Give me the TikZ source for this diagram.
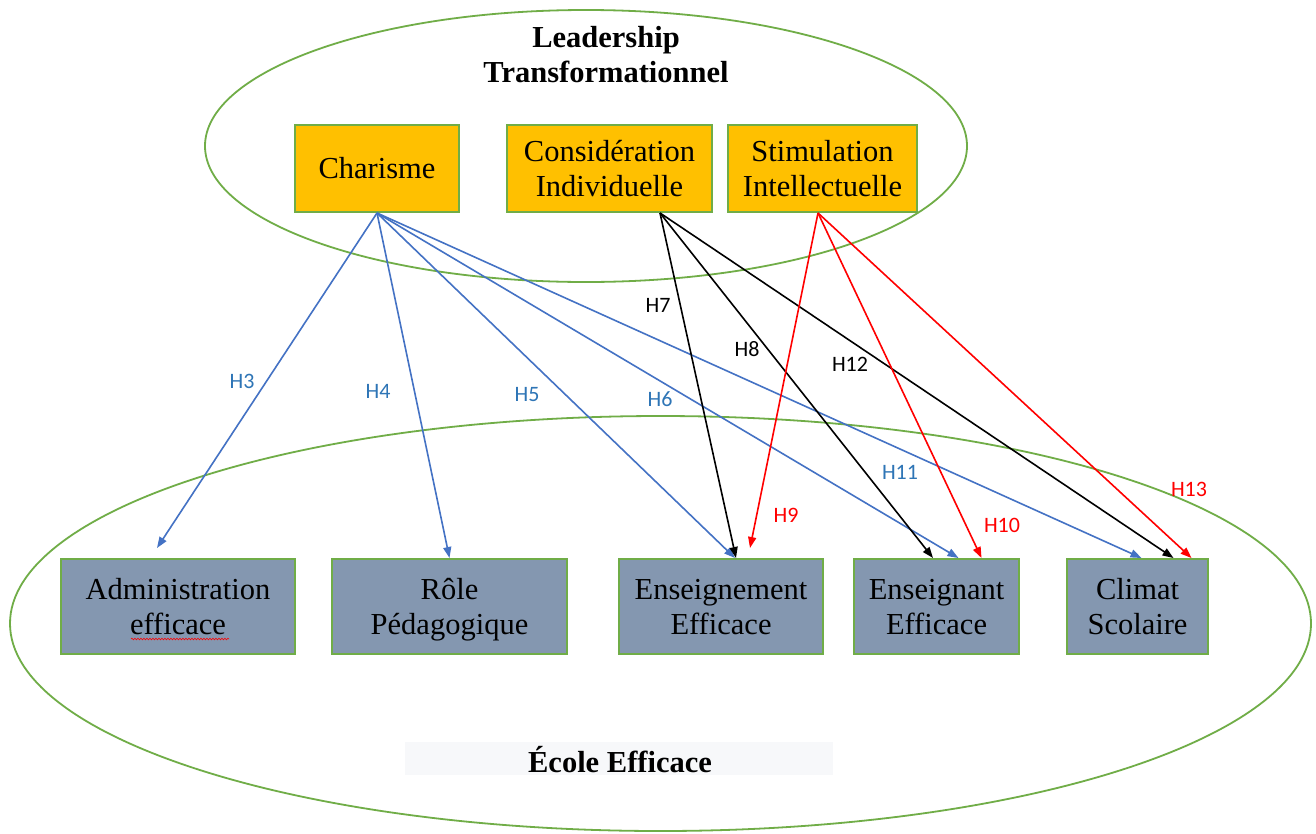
\documentclass[tikz,border=0pt]{standalone}
\usepackage{fontspec}
\setmainfont{Liberation Serif}
\newfontfamily\lblfont{Carlito}
\usetikzlibrary{arrows.meta,decorations.pathmorphing}
\definecolor{gold}{HTML}{FFC000}
\definecolor{grn}{HTML}{70AD47}
\definecolor{slate}{HTML}{8497B0}
\definecolor{ablue}{HTML}{4472C4}
\definecolor{lblue}{HTML}{2E75B6}
\definecolor{bgrey}{HTML}{F7F8FA}
\newcommand\twolines[2]{\rule{0pt}{32pt}#1\\#2\strut}
\newcommand\oneline[1]{\rule{0pt}{29.5pt}#1\strut}
\tikzset{
  ell/.style={draw=grn, line width=1.8pt},
  topbox/.style={draw=grn, line width=2pt, fill=gold, inner sep=0pt, align=center, minimum height=87pt, font=\fontsize{30.5}{35}\selectfont},
  botbox/.style={draw=grn, line width=2pt, fill=slate, inner sep=0pt, align=center, minimum height=95pt, font=\fontsize{30.5}{35}\selectfont},
  arr/.style={line width=1.6pt, -{Triangle[length=11pt,width=8pt]}},
  barr/.style={arr, draw=ablue, fill=ablue},
  karr/.style={arr, draw=black, fill=black},
  rarr/.style={arr, draw=red, fill=red},
  lbl/.style={font=\lblfont\fontsize{22}{24}\selectfont, inner sep=0pt},
  ttl/.style={font=\bfseries\fontsize{30.5}{35}\selectfont, align=center, inner sep=0pt}
}
\begin{document}
\begin{tikzpicture}[x=1pt,y=-1pt]
\useasboundingbox (0,0) rectangle (1316,833);
\fill[white] (0,0) rectangle (1316,833);
% ellipses
\draw[ell] (586,146) ellipse [x radius=381pt, y radius=136pt];
\draw[ell] (660.5,623.5) ellipse [x radius=650.5pt, y radius=207.5pt];
% titles
\node[ttl] (title) at (606,55) {Leadership\\Transformationnel};
\node[fill=bgrey, minimum width=428pt, minimum height=33pt, inner sep=0pt] (ecbg) at (619,758.5) {};
\node[ttl] (ecole) at (620,760) {École Efficace};
% top boxes
\node[topbox, minimum width=164pt] (char) at (377,168.5) {\oneline{Charisme}};
\node[topbox, minimum width=205pt] (cons) at (609.5,168.5) {\twolines{Considération}{Individuelle}};
\node[topbox, minimum width=189pt] (stim) at (822.5,168.5) {\twolines{Stimulation}{Intellectuelle}};
% bottom boxes
\node[botbox, minimum width=234pt] (admin) at (178,606.5) {\twolines{Administration}{efficace}};
\node[botbox, minimum width=235pt] (role) at (449.5,606.5) {\twolines{Rôle}{Pédagogique}};
\node[botbox, minimum width=204pt] (ens) at (721,606.5) {\twolines{Enseignement}{Efficace}};
\node[botbox, minimum width=165pt] (ensn) at (936.5,606.5) {\twolines{Enseignant}{Efficace}};
\node[botbox, minimum width=141pt] (clim) at (1137.5,606.5) {\twolines{Climat}{Scolaire}};
% spell-check underline
\draw[red, line width=0.6pt, decorate, decoration={snake, amplitude=0.8pt, segment length=3pt}] (131,639) -- (229,639);
% source points
\coordinate (cS) at (char.south);
\coordinate (kS) at ([xshift=50.5pt]cons.south);
\coordinate (sS) at ([xshift=-4.5pt]stim.south);
% blue arrows from Charisme
\draw[barr] (cS) -- ([xshift=-21pt,yshift=10pt]admin.north);
\draw[barr] (cS) -- (role.north);
\draw[barr] (cS) -- ([xshift=14pt]ens.north);
\draw[barr] (cS) -- ([xshift=22pt]ensn.north);
\draw[barr] (cS) -- ([xshift=4pt]clim.north);
% black arrows from Considération
\draw[karr] (kS) -- ([xshift=15pt]ens.north);
\draw[karr] (kS) -- ([xshift=-3.5pt]ensn.north);
\draw[karr] (kS) -- ([xshift=36pt]clim.north);
% red arrows from Stimulation
\draw[rarr] (sS) -- ([xshift=29pt,yshift=10pt]ens.north);
\draw[rarr] (sS) -- ([xshift=45pt]ensn.north);
\draw[rarr] (sS) -- ([xshift=54pt]clim.north);
% labels
\node[lbl, text=lblue] (h3) at (242,381) {H3};
\node[lbl, text=lblue] (h4) at (378,391) {H4};
\node[lbl, text=lblue] (h5) at (527,395) {H5};
\node[lbl, text=lblue] (h6) at (660,399) {H6};
\node[lbl, text=lblue] (h11) at (900,472) {H11};
\node[lbl] (h7) at (658,305) {H7};
\node[lbl] (h8) at (747,349) {H8};
\node[lbl] (h12) at (850,364) {H12};
\node[lbl, text=red] (h9) at (786,515) {H9};
\node[lbl, text=red] (h10) at (1002,525) {H10};
\node[lbl, text=red] (h13) at (1189,489) {H13};
\end{tikzpicture}
\end{document}
